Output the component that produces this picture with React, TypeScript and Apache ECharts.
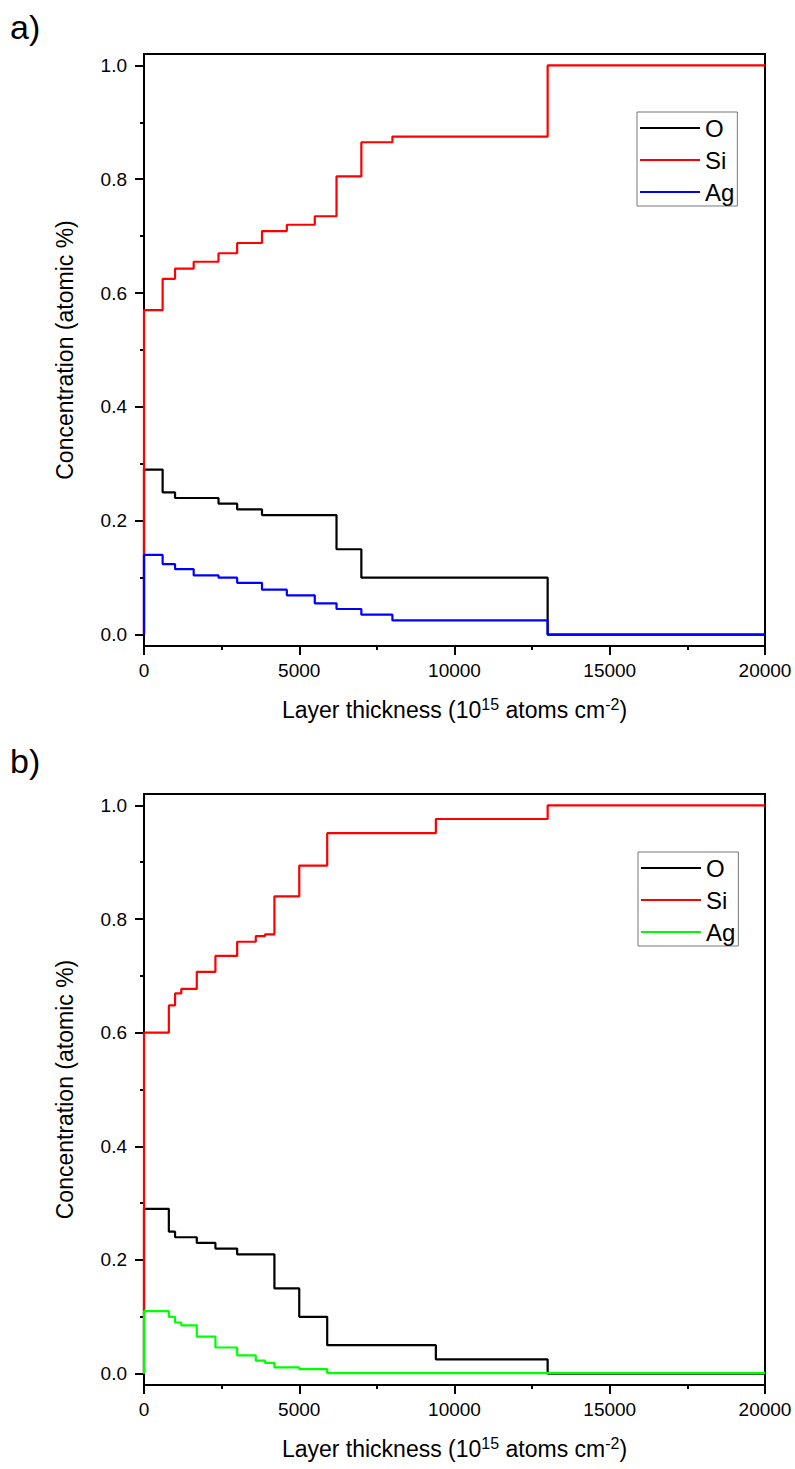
import React, { useEffect, useRef } from "react";
import * as echarts from "echarts";

// Panel a) layer boundaries (10^15 atoms cm^-2) and concentrations
const thicknessA = [0, 0, 600, 1000, 1600, 2400, 3000, 3800, 4600, 5500, 6200, 7000, 8000, 13000, 20000];
const oA = [0, 0.29, 0.25, 0.24, 0.24, 0.23, 0.22, 0.21, 0.21, 0.21, 0.15, 0.1, 0.1, 0, 0];
const siA = [0, 0.57, 0.625, 0.643, 0.655, 0.67, 0.688, 0.709, 0.72, 0.735, 0.805, 0.865, 0.875, 1.0, 1.0];
const agA = [0, 0.14, 0.124, 0.115, 0.104, 0.1, 0.091, 0.079, 0.069, 0.055, 0.045, 0.035, 0.025, 0, 0];

// Panel b)
const thicknessB = [0, 0, 800, 1000, 1200, 1700, 2300, 3000, 3600, 3900, 4200, 5000, 5900, 9400, 13000, 20000];
const oB = [0, 0.29, 0.25, 0.24, 0.24, 0.23, 0.22, 0.21, 0.21, 0.21, 0.15, 0.1, 0.05, 0.025, 0, 0];
const siB = [0, 0.6, 0.648, 0.669, 0.677, 0.707, 0.735, 0.76, 0.77, 0.773, 0.84, 0.894, 0.951, 0.976, 1.0, 1.0];
const agB = [0, 0.11, 0.1, 0.09, 0.085, 0.065, 0.046, 0.032, 0.023, 0.019, 0.011, 0.008, 0.001, 0.001, 0.001, 0.001];

const legendNames = ["O", "Si", "Ag"];
const majorYTicks = [0, 0.2, 0.4, 0.6, 0.8, 1.0];
const minorYTicks = [0.1, 0.3, 0.5, 0.7, 0.9];
const X_MIN = 0, X_MAX = 20000, X_INTERVAL = 5000;
const Y_MIN = -0.02, Y_MAX = 1.02;

const FONT = "'Liberation Sans', Arial, Helvetica, sans-serif";

const pairs = (xs: number[], ys: number[]) => xs.map((x, i) => [x, ys[i]]);

export default function App() {
  const ref = useRef<HTMLDivElement>(null);
  useEffect(() => {
    if (!ref.current) return;
    const chart = echarts.init(ref.current, null, { renderer: "svg" });

    const grids = [
      { left: 144, top: 54, width: 621, height: 592 },
      { left: 144, top: 794, width: 621, height: 591 },
    ];

    const axisLine = { show: true, onZero: false, lineStyle: { color: "#000", width: 2 } };
    const tickLine = { color: "#000", width: 2 };

    const xName = "{n|Layer thickness (10}{s|15}{n| atoms cm}{s|-2}{n|)}";
    const xNameStyle = {
      color: "#000",
      fontFamily: FONT,
      fontSize: 23,
      rich: {
        n: { fontSize: 23, fontFamily: FONT, color: "#000", lineHeight: 28 },
        s: { fontSize: 16, fontFamily: FONT, color: "#000", lineHeight: 16, verticalAlign: "top" },
      },
    };

    const xAxes: any[] = [];
    const yAxes: any[] = [];
    grids.forEach((_, i) => {
      xAxes.push({
        type: "value",
        gridIndex: i,
        min: X_MIN,
        max: X_MAX,
        interval: X_INTERVAL,
        axisLine,
        axisTick: { show: true, inside: false, length: 9, lineStyle: tickLine },
        minorTick: { show: true, splitNumber: 2, length: 4, lineStyle: tickLine },
        axisLabel: {
          color: "#000",
          fontSize: 19,
          fontFamily: FONT,
          margin: 15,
          formatter: (v: number) => String(Math.round(v)),
        },
        splitLine: { show: false },
        minorSplitLine: { show: false },
        name: xName,
        nameLocation: "middle",
        nameGap: 50,
        nameTextStyle: xNameStyle,
      });
      yAxes.push({
        type: "value",
        gridIndex: i,
        min: Y_MIN,
        max: Y_MAX,
        axisLine,
        axisTick: { show: true, inside: false, length: 9, lineStyle: tickLine, customValues: majorYTicks },
        axisLabel: {
          color: "#000",
          fontSize: 19,
          fontFamily: FONT,
          margin: 17,
          customValues: majorYTicks,
          formatter: (v: number) => v.toFixed(1),
        },
        splitLine: { show: false },
        name: "Concentration (atomic %)",
        nameLocation: "middle",
        nameGap: 68,
        nameTextStyle: { color: "#000", fontSize: 23, fontFamily: FONT },
      });
    });
    // hidden overlay grids carrying the minor y ticks
    const allGrids: any[] = grids.map((g) => ({ ...g, show: true, borderColor: "#000", borderWidth: 2 }));
    grids.forEach((g, i) => {
      allGrids.push({ ...g, show: false });
      xAxes.push({ type: "value", gridIndex: 2 + i, min: X_MIN, max: X_MAX, show: false });
      yAxes.push({
        type: "value",
        gridIndex: 2 + i,
        min: Y_MIN,
        max: Y_MAX,
        position: "left",
        axisLine: { show: false },
        axisTick: { show: true, inside: false, length: 4, lineStyle: tickLine, customValues: minorYTicks },
        axisLabel: { show: false },
        splitLine: { show: false },
      });
    });

    const mk = (name: string, color: string, data: number[][], idx: number) => ({
      type: "line",
      name,
      xAxisIndex: idx,
      yAxisIndex: idx,
      step: "end",
      symbol: "none",
      showSymbol: false,
      color,
      itemStyle: { color },
      lineStyle: { color, width: 2.2 },
      data,
    });

    const legendBase = {
      orient: "vertical",
      icon: "rect",
      itemWidth: 60,
      itemHeight: 2,
      itemGap: 8,
      padding: [4, 3, 2, 3],
      borderColor: "#777",
      borderWidth: 1,
      selectedMode: false,
      textStyle: { fontSize: 24, fontFamily: FONT, color: "#000", lineHeight: 24 },
    };

    chart.setOption({
      animation: false,
      backgroundColor: "#fff",
      grid: allGrids,
      xAxis: xAxes,
      yAxis: yAxes,
      legend: [
        { ...legendBase, left: 637, top: 112, data: legendNames },
        {
          ...legendBase,
          left: 638,
          top: 852,
          data: legendNames.map((n) => n + "_b"),
          formatter: (n: string) => n.replace("_b", ""),
        },
      ],
      graphic: [
        { type: "text", left: 10, top: 10, style: { text: "a)", fontSize: 34, fontFamily: FONT, fill: "#000" } },
        { type: "text", left: 10, top: 744, style: { text: "b)", fontSize: 34, fontFamily: FONT, fill: "#000" } },
      ],
      series: [
        mk("O", "#000000", pairs(thicknessA, oA), 0),
        mk("Si", "#ff0000", pairs(thicknessA, siA), 0),
        mk("Ag", "#0000ff", pairs(thicknessA, agA), 0),
        mk("O_b", "#000000", pairs(thicknessB, oB), 1),
        mk("Si_b", "#ff0000", pairs(thicknessB, siB), 1),
        mk("Ag_b", "#00ff00", pairs(thicknessB, agB), 1),
      ],
    });
    return () => chart.dispose();
  }, []);
  return (
    <div
      ref={ref}
      style={{ position: "absolute", left: 0, top: 0, width: 795, height: 1469, background: "#fff" }}
    />
  );
}
